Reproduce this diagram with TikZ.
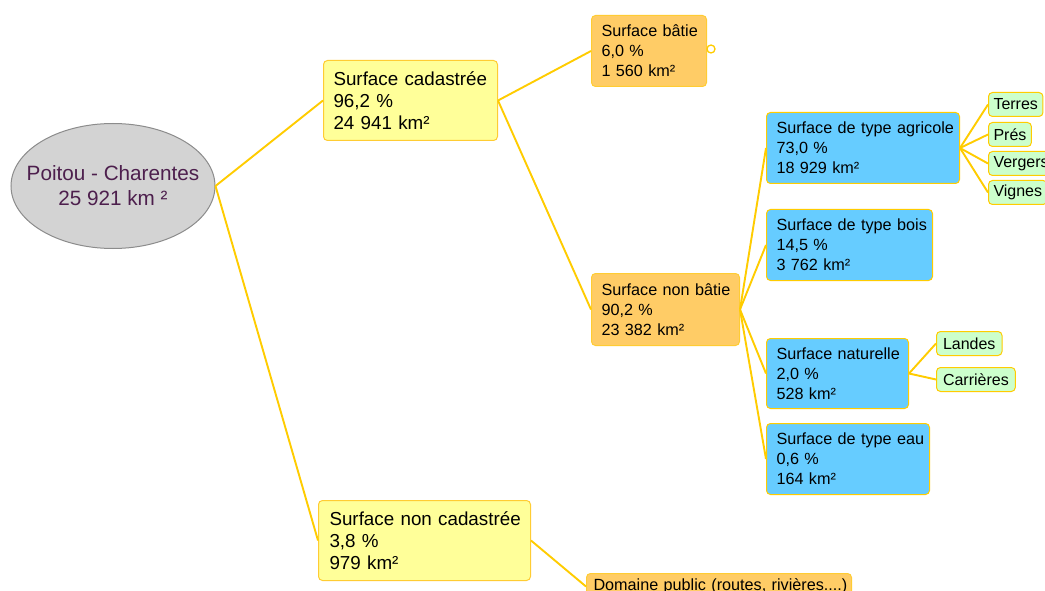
\documentclass[tikz,border=0pt]{standalone}
\usepackage{fontspec}
\setmainfont{Liberation Sans}
\usetikzlibrary{shapes.geometric}
\definecolor{link}{HTML}{FFCC00}
\definecolor{ylfill}{HTML}{FFFF99}
\definecolor{ylline}{HTML}{FFCC33}
\definecolor{orfill}{HTML}{FFCC66}
\definecolor{orline}{HTML}{FFCC33}
\definecolor{blfill}{HTML}{66CCFF}
\definecolor{grfill}{HTML}{CCFFCC}
\definecolor{rootfill}{HTML}{D3D3D3}
\definecolor{rootline}{HTML}{8C8C8C}
\definecolor{roottext}{HTML}{4D1F4D}
\newcommand{\lnx}[1]{\mbox{#1}}
\tikzset{
  base/.style={rectangle, rounded corners=4pt, line width=1pt, anchor=north west, align=left, inner ysep=0pt, inner xsep=10pt},
  bigbox/.style={base, fill=ylfill, draw=ylline, font=\fontsize{18.8}{22}\selectfont},
  orbox/.style={base, fill=orfill, draw=orline, font=\fontsize{16.2}{20}\selectfont},
  blbox/.style={base, fill=blfill, draw=link, font=\fontsize{16.2}{20}\selectfont},
  grbox/.style={base, fill=grfill, draw=link, inner xsep=5pt, minimum height=24pt, font=\fontsize{16}{18}\selectfont},
  rootshape/.style={ellipse, fill=rootfill, draw=rootline, line width=1pt, minimum width=204pt, minimum height=125pt, inner sep=0pt},
  roottxt/.style={align=center, text=roottext, inner sep=0pt, font=\fontsize{20.7}{25}\selectfont},
  conn/.style={draw=link, line width=1.9pt},
  knob/.style={circle, draw=link, fill=white, line width=1.3pt, minimum size=8pt, inner sep=0pt}
}
\begin{document}
\begin{tikzpicture}[x=1pt,y=-1pt]
\useasboundingbox (0,0) rectangle (1045,591);
\clip (0,0) rectangle (1045,591);
\fill[white] (0,0) rectangle (1045,591);

\node[rootshape] (root) at (113,186) {};
\node[roottxt] (roottext) at (113,186) {Poitou - Charentes\\25 921 km ²};

\node[bigbox, text width=154pt, minimum height=80pt] (cad) at (323,60) {\lnx{Surface cadastrée}\\\lnx{96,2 \%}\\\lnx{24 941 km²}};
\node[bigbox, text width=190pt, inner xsep=11pt, minimum height=80pt] (noncad) at (318,500) {\lnx{Surface non cadastrée}\\\lnx{3,8 \%}\\\lnx{979 km²}};

\node[orbox, text width=95pt, minimum height=71pt] (batie) at (591,15) {\lnx{Surface bâtie}\\\lnx{6,0 \%}\\\lnx{1 560 km²}};
\node[knob] (knobb) at (711,49) {};
\node[orbox, text width=128pt, minimum height=72pt] (nonbatie) at (591,273) {\lnx{Surface non bâtie}\\\lnx{90,2 \%}\\\lnx{23 382 km²}};
\node[orbox, text width=251pt, inner xsep=7pt, minimum height=26pt] (domaine) at (586,573) {\lnx{Domaine public (routes, rivières....)}};

\node[blbox, text width=173pt, minimum height=71pt] (agri) at (766,112) {\lnx{Surface de type agricole}\\\lnx{73,0 \%}\\\lnx{18 929 km²}};
\node[blbox, text width=146pt, minimum height=71pt] (bois) at (766,209) {\lnx{Surface de type bois}\\\lnx{14,5 \%}\\\lnx{3 762 km²}};
\node[blbox, text width=122pt, minimum height=70pt] (nat) at (766,338) {\lnx{Surface naturelle}\\\lnx{2,0 \%}\\\lnx{528 km²}};
\node[blbox, text width=143pt, minimum height=71pt] (eau) at (766,423) {\lnx{Surface de type eau}\\\lnx{0,6 \%}\\\lnx{164 km²}};

\node[grbox] (terres) at (988,92) {Terres};
\node[grbox] (pres) at (988,122) {Prés};
\node[grbox] (vergers) at (988,151) {Vergers};
\node[grbox] (vignes) at (988,180) {Vignes};
\node[grbox, inner xsep=6.5pt] (landes) at (936,331) {Landes};
\node[grbox, inner xsep=6.5pt] (carr) at (936,367) {Carrières};

\draw[conn] (root.east) -- (cad.west);
\draw[conn] (root.east) -- (noncad.west);
\draw[conn] (cad.east) -- (batie.west);
\draw[conn] (cad.east) -- (nonbatie.west);
\draw[conn] (noncad.east) -- (domaine.west);
\draw[conn] (nonbatie.east) -- (agri.west);
\draw[conn] (nonbatie.east) -- (bois.west);
\draw[conn] (nonbatie.east) -- (nat.west);
\draw[conn] (nonbatie.east) -- (eau.west);
\draw[conn] (agri.east) -- (terres.west);
\draw[conn] (agri.east) -- (pres.west);
\draw[conn] (agri.east) -- (vergers.west);
\draw[conn] (agri.east) -- (vignes.west);
\draw[conn] (nat.east) -- (landes.west);
\draw[conn] (nat.east) -- (carr.west);
\end{tikzpicture}
\end{document}
